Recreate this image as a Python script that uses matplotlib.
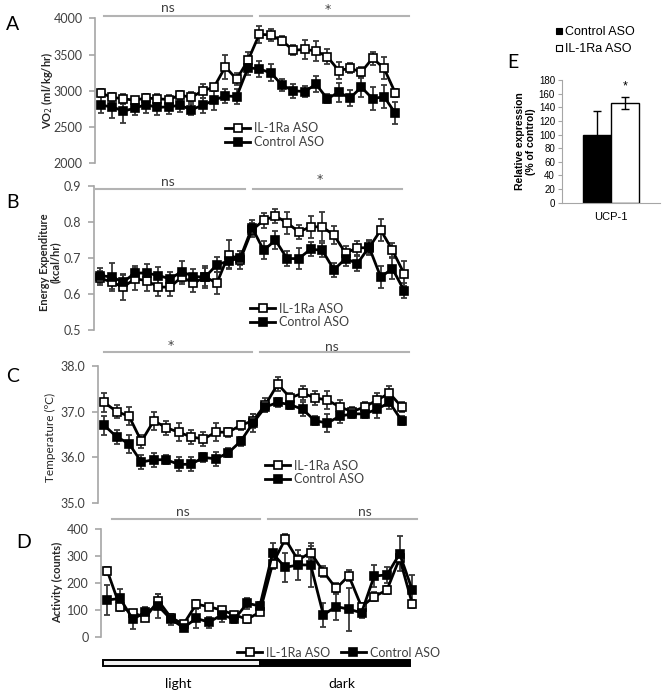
import matplotlib
matplotlib.use('Agg')
import matplotlib.pyplot as plt
from matplotlib.lines import Line2D
from matplotlib.patches import Rectangle
import numpy as np

W, H = 664, 697

# Panel A: VO2 (ml/kg/hr)
vo2_il1ra = [2970, 2910, 2890, 2870, 2900, 2890, 2880, 2940, 2910, 3000, 3050, 3330, 3160, 3420,
             3780, 3770, 3690, 3560, 3570, 3550, 3470, 3280, 3310, 3260, 3450, 3310, 2970]
vo2_il1ra_err = [60, 60, 70, 50, 50, 60, 60, 60, 70, 100, 50, 170, 80, 110,
                 120, 80, 60, 70, 130, 140, 100, 120, 70, 70, 90, 150, 60]
vo2_ctrl = [2800, 2780, 2720, 2760, 2810, 2770, 2780, 2800, 2740, 2800, 2870, 2930, 2920, 3320,
            3300, 3250, 3080, 3000, 2990, 3090, 2890, 2980, 2900, 3050, 2890, 2920, 2690]
vo2_ctrl_err = [110, 160, 170, 90, 120, 100, 100, 90, 80, 100, 130, 100, 100, 100,
                110, 120, 80, 100, 80, 110, 60, 130, 110, 130, 160, 160, 150]

# Panel B: energy expenditure (kcal/hr)
ee_il1ra = [0.644, 0.633, 0.619, 0.642, 0.637, 0.619, 0.619, 0.647, 0.630, 0.647, 0.630, 0.709, 0.695, 0.777,
            0.804, 0.816, 0.797, 0.772, 0.786, 0.786, 0.763, 0.713, 0.728, 0.728, 0.777, 0.721, 0.656]
ee_il1ra_err = [0.02, 0.02, 0.035, 0.03, 0.03, 0.025, 0.025, 0.02, 0.025, 0.03, 0.03, 0.04, 0.025, 0.02,
                0.02, 0.02, 0.03, 0.02, 0.03, 0.04, 0.025, 0.02, 0.02, 0.02, 0.03, 0.02, 0.035]
ee_ctrl = [0.651, 0.647, 0.633, 0.658, 0.658, 0.651, 0.642, 0.662, 0.648, 0.647, 0.681, 0.691, 0.700, 0.784,
           0.721, 0.749, 0.698, 0.698, 0.724, 0.721, 0.667, 0.698, 0.684, 0.730, 0.647, 0.670, 0.609]
ee_ctrl_err = [0.02, 0.04, 0.02, 0.02, 0.025, 0.025, 0.02, 0.03, 0.02, 0.025, 0.02, 0.02, 0.02, 0.02,
               0.025, 0.025, 0.02, 0.03, 0.02, 0.02, 0.02, 0.02, 0.02, 0.02, 0.03, 0.03, 0.02]

# Panel C: temperature (C)
temp_il1ra = [37.2, 37.0, 36.9, 36.35, 36.8, 36.65, 36.55, 36.45, 36.4, 36.55, 36.55, 36.7, 36.8,
              37.15, 37.6, 37.3, 37.4, 37.3, 37.25, 37.1, 37.0, 37.1, 37.25, 37.4, 37.1]
temp_il1ra_err = [0.2, 0.15, 0.2, 0.15, 0.2, 0.15, 0.2, 0.15, 0.15, 0.2, 0.1, 0.1, 0.15,
                  0.15, 0.15, 0.1, 0.15, 0.15, 0.2, 0.15, 0.1, 0.1, 0.15, 0.15, 0.1]
temp_ctrl = [36.7, 36.45, 36.3, 35.9, 35.95, 35.95, 35.85, 35.85, 36.0, 35.97, 36.1, 36.35, 36.75,
             37.1, 37.2, 37.15, 37.05, 36.8, 36.75, 36.9, 36.95, 36.95, 37.05, 37.2, 36.8]
temp_ctrl_err = [0.2, 0.15, 0.2, 0.15, 0.15, 0.1, 0.15, 0.15, 0.1, 0.15, 0.1, 0.1, 0.2,
                 0.1, 0.1, 0.1, 0.15, 0.1, 0.2, 0.15, 0.1, 0.1, 0.2, 0.15, 0.1]

# Panel D: activity (counts)
act_il1ra = [245, 113, 91, 73, 136, 73, 49, 123, 113, 101, 83, 67, 93,
             272, 364, 286, 314, 243, 181, 228, 113, 151, 175, 293, 123]
act_il1ra_err = [15, 15, 10, 10, 25, 10, 10, 15, 10, 10, 10, 15, 10,
                 20, 20, 20, 25, 20, 20, 20, 15, 15, 15, 20, 15]
act_ctrl = [138, 144, 67, 93, 116, 67, 36, 70, 56, 83, 67, 126, 116,
            311, 259, 268, 268, 83, 114, 104, 91, 227, 231, 309, 175]
act_ctrl_err = [55, 35, 35, 20, 45, 20, 10, 35, 20, 25, 15, 20, 15,
                40, 55, 55, 80, 45, 50, 80, 20, 40, 30, 65, 55]

# Panel E: UCP-1 expression
e_groups = ['Control ASO', 'IL-1Ra ASO']
e_values = [100, 146]
e_err = [35, 9]

FONT = 'Lato'
GRAY = '#a6a6a6'
TXT = '#404040'


def px_rect(left, top, right, bottom):
    return [left / W, 1 - bottom / H, (right - left) / W, (bottom - top) / H]


def fig_line(fig, x0, x1, y, **kw):
    fig.add_artist(Line2D([x0 / W, x1 / W], [1 - y / H, 1 - y / H],
                          transform=fig.transFigure, **kw))


def fig_text(fig, x, y, s, **kw):
    fig.text(x / W, 1 - y / H, s, **kw)


def timecourse(ax, il1ra, il1ra_err, ctrl, ctrl_err, ylim, yticks, fmt):
    x = np.arange(len(il1ra))
    ax.errorbar(x, il1ra, yerr=il1ra_err, fmt='none', ecolor='#383838',
                elinewidth=1.3, capsize=2.5, capthick=1.3, zorder=2)
    ax.errorbar(x, ctrl, yerr=ctrl_err, fmt='none', ecolor='#383838',
                elinewidth=1.3, capsize=2.5, capthick=1.3, zorder=2)
    ax.plot(x, il1ra, '-s', color='black', lw=2, ms=5.5, mfc='white',
            mec='black', mew=1.2, zorder=3, label='IL-1Ra ASO')
    ax.plot(x, ctrl, '-s', color='black', lw=2, ms=5.5, mfc='black',
            mec='black', mew=1.2, zorder=4, label='Control ASO')
    ax.set_xlim(-0.5, len(il1ra) - 0.5)
    ax.set_ylim(ylim)
    ax.set_yticks(yticks)
    ax.set_yticklabels([fmt.format(t) for t in yticks], fontfamily=FONT)
    ax.set_xticks([])
    for s in ['top', 'right', 'bottom']:
        ax.spines[s].set_visible(False)
    ax.spines['left'].set_color(GRAY)
    ax.spines['left'].set_linewidth(1.2)
    ax.tick_params(axis='y', direction='out', length=4, width=1.2, color=GRAY,
                   labelcolor=TXT, labelsize=9, pad=5)
    ax.patch.set_alpha(0)


def side_legend(ax, fig, x, y, ncol=1):
    leg = ax.legend(loc='center left', bbox_to_anchor=(x / W, 1 - y / H),
                    bbox_transform=fig.transFigure, frameon=False, ncol=ncol,
                    handlelength=2.0, handletextpad=0.35, labelspacing=0.15,
                    columnspacing=0.8, borderpad=0, borderaxespad=0,
                    prop={'family': FONT, 'size': 9})
    for t in leg.get_texts():
        t.set_color(TXT)


fig = plt.figure(figsize=(W / 100, H / 100), dpi=100)
sig = dict(color='#b3b3b3', lw=1.5)
sigtxt = dict(fontfamily=FONT, fontsize=10, color=TXT, ha='center', va='center')
startxt = dict(fontfamily='DejaVu Sans', fontsize=9, color=TXT, ha='center', va='center')
ylab = dict(fontfamily=FONT, rotation=90, ha='center', va='center', color='#262626')
letter = dict(fontfamily=FONT, fontsize=14, ha='center', va='center')

# A
axA = fig.add_axes(px_rect(95, 18.3, 401, 163.3))
timecourse(axA, vo2_il1ra, vo2_il1ra_err, vo2_ctrl, vo2_ctrl_err,
           (2000, 4000), [2000, 2500, 3000, 3500, 4000], '{:.0f}')
side_legend(axA, fig, 225, 135)
fig_line(fig, 104, 252, 16, **sig)
fig_line(fig, 260, 409, 16, **sig)
fig_text(fig, 168, 8, 'ns', **sigtxt)
fig_text(fig, 328, 9, '*', **startxt)
fig_text(fig, 47, 90, 'VO$_2$ (ml/kg/hr)', fontsize=8, fontweight='bold', **ylab)
fig_text(fig, 13, 25, 'A', **letter)

# B
axB = fig.add_axes(px_rect(94, 185.7, 410, 330))
timecourse(axB, ee_il1ra, ee_il1ra_err, ee_ctrl, ee_ctrl_err,
           (0.5, 0.9), [0.5, 0.6, 0.7, 0.8, 0.9], '{:.1f}')
side_legend(axB, fig, 250, 315.5)
fig_line(fig, 96, 245, 189, **sig)
fig_line(fig, 253, 402, 189, **sig)
fig_text(fig, 168, 182, 'ns', **sigtxt)
fig_text(fig, 320, 180, '*', **startxt)
fig_text(fig, 50, 262, 'Energy Expenditure\n(kcal/hr)', fontsize=8, fontweight='bold',
         linespacing=1.0, multialignment='center', **ylab)
fig_text(fig, 12, 203, 'B', **letter)

# C
axC = fig.add_axes(px_rect(98, 365.7, 408, 503.3))
timecourse(axC, temp_il1ra, temp_il1ra_err, temp_ctrl, temp_ctrl_err,
           (35.0, 38.0), [35.0, 36.0, 37.0, 38.0], '{:.1f}')
side_legend(axC, fig, 265, 472.5)
fig_line(fig, 104, 252, 352, **sig)
fig_line(fig, 260, 409, 352, **sig)
fig_text(fig, 171, 345, '*', **startxt)
fig_text(fig, 332, 347, 'ns', **sigtxt)
fig_text(fig, 50, 437, 'Temperature (ºC)', fontsize=8.5, **ylab)
fig_text(fig, 13, 377, 'C', **letter)

# D
axD = fig.add_axes(px_rect(101, 529.3, 418.7, 637.3))
timecourse(axD, act_il1ra, act_il1ra_err, act_ctrl, act_ctrl_err,
           (0, 400), [0, 100, 200, 300, 400], '{:.0f}')
side_legend(axD, fig, 237, 652.7, ncol=2)
fig_line(fig, 112, 260, 519, **sig)
fig_line(fig, 268, 417, 519, **sig)
fig_text(fig, 183, 512, 'ns', **sigtxt)
fig_text(fig, 365, 512, 'ns', **sigtxt)
fig_text(fig, 58, 582, 'Activity (counts)', fontsize=8, fontweight='bold', **ylab)
fig_text(fig, 24, 542, 'D', **letter)

# light / dark bar
fig.add_artist(Rectangle((103 / W, 1 - 666 / H), 157 / W, 6 / H, transform=fig.transFigure,
                         facecolor='#f0f0f0', edgecolor='black', lw=1.4))
fig.add_artist(Rectangle((260 / W, 1 - 666 / H), 150 / W, 6 / H, transform=fig.transFigure,
                         facecolor='black', edgecolor='black', lw=1.4))
fig_text(fig, 178, 684, 'light', fontfamily=FONT, fontsize=10, ha='center', va='center')
fig_text(fig, 342, 684, 'dark', fontfamily=FONT, fontsize=10, ha='center', va='center')

# E
EFONT = 'Liberation Sans'
axE = fig.add_axes(px_rect(562, 80, 660, 202.7))
bw = 0.29
xs = [-bw / 2, bw / 2]
colors = ['black', 'white']
for xi, v, e, c, g in zip(xs, e_values, e_err, colors, e_groups):
    axE.bar(xi, v, width=bw, color=c, edgecolor='black', lw=1, label=g, zorder=2)
    axE.errorbar(xi, v, yerr=e, fmt='none', ecolor='black', elinewidth=1,
                 capsize=3, capthick=1, zorder=3)
axE.text(xs[1], 162, '*', ha='center', va='bottom', fontfamily=EFONT, fontsize=9)
axE.set_xlim(-0.5, 0.5)
axE.set_ylim(0, 180)
axE.set_yticks(range(0, 181, 20))
axE.set_xticks([0])
axE.set_xticklabels(['UCP-1'], fontfamily=EFONT, fontsize=8)
for lbl in axE.get_yticklabels():
    lbl.set_fontfamily(EFONT)
axE.tick_params(axis='y', direction='out', length=3, color=GRAY, labelsize=7, pad=2)
axE.tick_params(axis='x', length=0, pad=7)
for s in ['top', 'right']:
    axE.spines[s].set_visible(False)
for s in ['left', 'bottom']:
    axE.spines[s].set_color(GRAY)
axE.set_ylabel('Relative expression\n(% of control)', fontfamily=EFONT, fontsize=7.5,
               fontweight='bold', linespacing=1.1, labelpad=2)
hE = [Line2D([], [], marker='s', ls='none', ms=4.5, mfc=c, mec='black', mew=0.8)
      for c in colors]
axE.legend(hE, e_groups, loc='upper left', bbox_to_anchor=(555 / W, 1 - 26 / H),
           bbox_transform=fig.transFigure, frameon=False, handlelength=0.6,
           handletextpad=0.2, labelspacing=0.4, borderpad=0, borderaxespad=0,
           prop={'family': EFONT, 'size': 9})
fig_text(fig, 513, 62, 'E', **letter)

fig.savefig('out.png', dpi=100)
